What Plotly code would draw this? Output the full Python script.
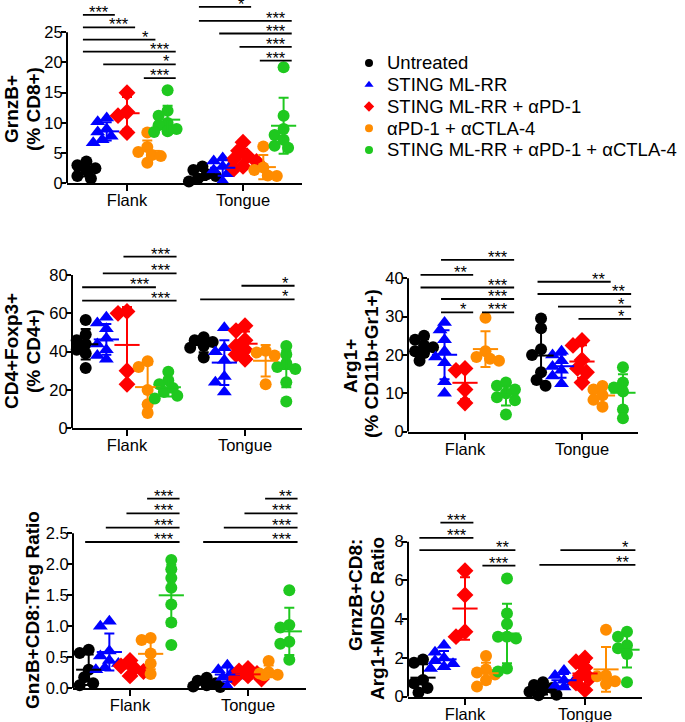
import numpy as np
import plotly.graph_objects as go

W, H = 685, 722
FONT = "Liberation Sans, Arial, sans-serif"

groups = ["Untreated", "STING ML-RR", "STING ML-RR + αPD-1",
          "αPD-1 + αCTLA-4", "STING ML-RR + αPD-1 + αCTLA-4"]
colors = ["#000000", "#0000FF", "#FF0000", "#FF8C00", "#1FC81F"]
symbols = ["circle", "triangle-up", "diamond", "circle", "circle"]
sites = ["Flank", "Tongue"]

# ---------------- data (per site: list of 5 groups) ----------------
grnzb_flank = [[3.6, 3.0, 2.5, 2.1, 1.2, 0.8],
               [10.8, 10.2, 9.0, 8.5, 7.8, 7.2, 6.7],
               [15.0, 11.8, 11.2, 8.4],
               [8.4, 6.0, 5.2, 4.7, 4.5, 3.4],
               [15.4, 12.0, 11.2, 10.0, 9.6, 9.0, 8.6, 8.5]]
grnzb_tongue = [[2.8, 2.2, 1.5, 1.2, 0.8, 0.3],
                [4.2, 3.7, 3.2, 2.8, 2.2, 1.6, 0.3],
                [6.8, 5.4, 4.5, 4.0, 3.6, 2.8, 2.4],
                [6.1, 2.6, 2.2, 1.3, 1.2],
                [19.2, 11.2, 9.0, 8.0, 7.2, 6.2, 5.9]]

treg_flank = [[56.5, 49, 46, 44, 41, 39, 31.5],
              [58, 55, 52, 47, 44, 41, 38, 36],
              [61, 60, 30, 23],
              [35, 32, 20, 12.5, 8],
              [29.5, 25, 23, 21, 19, 17, 15.5]]
treg_tongue = [[47.5, 46, 45, 43, 42, 37],
               [52.5, 42, 40, 35.5, 27, 24, 19],
               [53.5, 51, 46, 43, 41, 38.5, 36],
               [40.5, 39.5, 38, 23],
               [43, 38.5, 34, 32, 31, 24, 14]]

arg1_flank = [[25, 24, 22.5, 22, 21, 20.5, 18.5],
              [28.5, 26.5, 24, 21, 19.5, 18, 13, 10],
              [16.5, 16, 11, 7.5],
              [29.7, 21, 19.5, 19, 18.5],
              [12.8, 12, 11, 10, 9, 8.2, 4.5]]
arg1_tongue = [[29.5, 27, 21.5, 20, 15.5, 13.5, 12],
               [21, 20, 18.5, 17, 16, 14.5, 12.5],
               [23.8, 22.5, 18.7, 16.5, 15.5, 12.8],
               [11.9, 11, 9.5, 8.3, 6.5],
               [16.8, 12.8, 11.5, 10.5, 5.8, 3.5]]

ratio_treg_flank = [[0.62, 0.57, 0.3, 0.18, 0.08, 0.05],
                    [1.08, 1.0, 0.6, 0.52, 0.45, 0.4, 0.33, 0.3],
                    [0.45, 0.36, 0.32, 0.27, 0.2],
                    [0.81, 0.78, 0.56, 0.4, 0.23],
                    [2.07, 1.92, 1.78, 1.62, 1.35, 1.06, 0.7]]
ratio_treg_tongue = [[0.17, 0.12, 0.08, 0.05, 0.03, 0.02],
                     [0.37, 0.3, 0.25, 0.2, 0.18, 0.03],
                     [0.32, 0.28, 0.24, 0.2, 0.16, 0.15],
                     [0.44, 0.26, 0.24, 0.22, 0.21],
                     [1.58, 1.02, 0.98, 0.75, 0.72, 0.46]]

ratio_mdsc_flank = [[1.92, 1.75, 0.86, 0.7, 0.45, 0.22],
                    [2.65, 2.3, 2.0, 1.85, 1.7, 1.55, 1.45],
                    [6.5, 5.25, 3.35, 3.1],
                    [2.1, 1.4, 1.25, 1.15, 0.85, 0.52],
                    [6.1, 4.3, 3.75, 3.1, 3.0, 3.1, 1.45, 1.3]]
ratio_mdsc_tongue = [[0.75, 0.6, 0.45, 0.35, 0.25, 0.1, 0.08],
                     [1.35, 1.1, 0.85, 0.75, 0.55, 0.5],
                     [2.0, 1.8, 1.5, 1.1, 0.95, 0.7, 0.35],
                     [3.45, 1.1, 1.05, 0.8, 0.65],
                     [3.35, 3.1, 2.65, 2.5, 2.2, 0.75]]

# significance brackets: (site index, group from, group to, height, label)
brackets_grnzb = [(0, 0, 1, 27.9, "***"), (0, 0, 2, 25.8, "***"), (0, 0, 3, 23.8, "*"),
                  (0, 0, 4, 21.8, "***"), (0, 1, 4, 19.7, "*"), (0, 3, 4, 17.4, "***"),
                  (1, 0, 2, 29.2, "*"), (1, 0, 4, 26.9, "***"), (1, 1, 4, 24.8, "***"),
                  (1, 2, 4, 22.6, "***"), (1, 3, 4, 20.3, "***")]
brackets_treg = [(0, 2, 4, 89.6, "***"), (0, 1, 4, 80.9, "***"), (0, 0, 3, 73.6, "***"),
                 (0, 0, 4, 66.6, "***"), (1, 2, 4, 74.4, "*"), (1, 0, 4, 67.3, "*")]
brackets_arg1 = [(0, 1, 4, 44.8, "***"), (0, 0, 2, 40.9, "**"), (0, 0, 4, 37.6, "***"),
                 (0, 1, 4, 34.6, "***"), (0, 1, 2, 31.1, "*"), (0, 3, 4, 31.1, "***"),
                 (1, 0, 3, 39.1, "**"), (1, 0, 4, 35.9, "**"), (1, 1, 4, 32.6, "*"),
                 (1, 2, 4, 29.4, "*")]
brackets_ratio_treg = [(0, 3, 4, 3.06, "***"), (0, 2, 4, 2.82, "***"), (0, 1, 4, 2.59, "***"),
                       (0, 0, 4, 2.36, "***"), (1, 3, 4, 3.06, "**"), (1, 2, 4, 2.82, "***"),
                       (1, 1, 4, 2.59, "***"), (1, 0, 4, 2.36, "***")]
brackets_ratio_mdsc = [(0, 1, 2, 8.98, "***"), (0, 0, 2, 8.2, "***"), (0, 0, 4, 7.57, "**"),
                       (0, 3, 4, 6.76, "***"), (1, 1, 4, 7.57, "*"), (1, 0, 4, 6.8, "**")]

ticks_grnzb = [0, 5, 10, 15, 20, 25]
ticks_treg = [0, 20, 40, 60, 80]
ticks_arg1 = [0, 10, 20, 30, 40]
ticks_ratio_treg = [0, 0.5, 1.0, 1.5, 2.0, 2.5]
ticks_ratio_mdsc = [0, 2, 4, 6, 8]

# ---------------- layout of panels (pixel geometry) ----------------
panels = [
    dict(data=(grnzb_flank, grnzb_tongue), br=brackets_grnzb, ticks=ticks_grnzb, fmt="d",
         x0=67, x1=302, zero=183.3, toppx=32.3, rtop=30.3, fpx=127, tpx=243,
         titles=[("GrnzB+", 11, 109), ("(% CD8+)", 33, 109)]),
    dict(data=(treg_flank, treg_tongue), br=brackets_treg, ticks=ticks_treg, fmt="d",
         x0=72, x1=302, zero=428.3, toppx=275, rtop=92, fpx=127, tpx=245,
         titles=[("CD4+Foxp3+", 11, 351), ("(% CD4+)", 33, 351)]),
    dict(data=(arg1_flank, arg1_tongue), br=brackets_arg1, ticks=ticks_arg1, fmt="d",
         x0=408, x1=638, zero=431.7, toppx=278.3, rtop=46.5, fpx=465, tpx=582,
         titles=[("Arg1+", 350, 366), ("(% CD11b+Gr1+)", 372, 364)]),
    dict(data=(ratio_treg_flank, ratio_treg_tongue), br=brackets_ratio_treg,
         ticks=ticks_ratio_treg, fmt=".1f",
         x0=73, x1=306, zero=688.3, toppx=533.3, rtop=3.2, fpx=130, tpx=248,
         titles=[("GnzB+CD8:Treg Ratio", 32, 610)]),
    dict(data=(ratio_mdsc_flank, ratio_mdsc_tongue), br=brackets_ratio_mdsc,
         ticks=ticks_ratio_mdsc, fmt="d",
         x0=408, x1=642, zero=696.7, toppx=541.7, rtop=9.3, fpx=465, tpx=585,
         titles=[("GrnzB+CD8:", 355, 595), ("Arg1+MDSC Ratio", 377, 619)]),
]

OFFS = [-0.35, -0.175, 0.0, 0.175, 0.35]
MSIZE = {"circle": 12, "triangle-up": 13, "diamond": 13}


def swarm(vals, ppu, diam=8.5, step=4.5):
    order = sorted(range(len(vals)), key=lambda k: -vals[k])
    placed, res = [], [0.0] * len(vals)
    for k in order:
        y = vals[k] * ppu
        best, bestd = 0.0, -1
        for m in [0, -1, 1, -2, 2, -3, 3]:
            dx = m * step
            d = min([np.hypot(dx - px, y - py) for px, py in placed] or [1e9])
            if d >= diam:
                best = dx
                break
            if d > bestd:
                best, bestd = dx, d
        placed.append((best, y))
        res[k] = best
    return res


fig = go.Figure()
layout = dict(width=W, height=H, margin=dict(l=0, r=0, t=0, b=0),
              plot_bgcolor="white", paper_bgcolor="white", showlegend=False,
              font=dict(family=FONT, color="black"))
annotations, shapes = [], []

for p_i, P in enumerate(panels):
    n = p_i + 1
    xa, ya = ("x" if n == 1 else f"x{n}"), ("y" if n == 1 else f"y{n}")
    xkey, ykey = ("xaxis" if n == 1 else f"xaxis{n}"), ("yaxis" if n == 1 else f"yaxis{n}")
    ppu = (P["zero"] - P["toppx"]) / P["ticks"][-1]
    rtop = min(P["rtop"], P["zero"] / ppu)
    top_px = P["zero"] - rtop * ppu
    unit = P["tpx"] - P["fpx"]
    xr = [1 - (P["fpx"] - P["x0"]) / unit, 2 + (P["x1"] - P["tpx"]) / unit]
    layout[xkey] = dict(domain=[P["x0"] / W, P["x1"] / W], range=xr, anchor=ya,
                        tickvals=[1, 2], ticktext=sites, showline=True, linewidth=2,
                        linecolor="black", ticks="outside", ticklen=6, tickwidth=2,
                        tickcolor="black", showgrid=False, zeroline=False,
                        ticklabelstandoff=-5,
                        tickfont=dict(size=16.5, family=FONT, color="black"),
                        automargin=False, fixedrange=True)
    layout[ykey] = dict(domain=[max(0, 1 - P["zero"] / H), min(1, 1 - top_px / H)],
                        range=[0, rtop],
                        anchor=xa, tickvals=P["ticks"],
                        ticktext=[(f"{t:.1f}" if P["fmt"] == ".1f" else f"{t:g}") for t in P["ticks"]],
                        showline=False, ticks="outside", ticklen=5, tickwidth=2,
                        tickcolor="black", showgrid=False, zeroline=False,
                        ticklabelstandoff=-5,
                        tickfont=dict(size=16.5, family=FONT, color="black"),
                        automargin=False, fixedrange=True)
    # y axis line up to the top tick
    shapes.append(dict(type="line", xref=f"{xa} domain", yref=ya, x0=0, x1=0,
                       y0=0, y1=P["ticks"][-1], line=dict(color="black", width=2)))
    # points and mean +/- SD
    for s_i, site_data in enumerate(P["data"]):
        for g in range(5):
            vals = site_data[g]
            xc = (s_i + 1) + OFFS[g]
            dxs = swarm(vals, ppu)
            xs = [xc + d / unit for d in dxs]
            fig.add_trace(go.Scatter(x=xs, y=vals, mode="markers", xaxis=xa, yaxis=ya,
                                     cliponaxis=False, hoverinfo="skip",
                                     marker=dict(symbol=symbols[g], color=colors[g],
                                                 size=MSIZE[symbols[g]], line=dict(width=0))))
        for g in range(5):
            vals = np.array(site_data[g], dtype=float)
            xc = (s_i + 1) + OFFS[g]
            fig.add_trace(go.Scatter(x=[xc], y=[vals.mean()], mode="markers", xaxis=xa, yaxis=ya,
                                     cliponaxis=False, hoverinfo="skip",
                                     marker=dict(symbol="line-ew", size=18, color=colors[g],
                                                 line=dict(color=colors[g], width=2)),
                                     error_y=dict(type="data", array=[vals.std(ddof=1)],
                                                  color=colors[g], thickness=2, width=5)))
    # significance brackets
    bx, by = [], []
    for (s_i, g1, g2, h, lab) in P["br"]:
        xs0 = (s_i + 1) + OFFS[g1] - 0.03
        xs1 = (s_i + 1) + OFFS[g2] + 0.07
        bx += [xs0, xs1, None]
        by += [h, h, None]
        annotations.append(dict(x=xs1, y=h, xref=xa, yref=ya, text=lab, showarrow=False,
                                xanchor="right", yanchor="bottom", xshift=-4, yshift=-8,
                                font=dict(size=16.5, family=FONT, color="black")))
    fig.add_trace(go.Scatter(x=bx, y=by, mode="lines", xaxis=xa, yaxis=ya, hoverinfo="skip",
                             cliponaxis=False, line=dict(color="black", width=1.8)))
    # axis titles
    for (txt, px, py) in P["titles"]:
        annotations.append(dict(x=px / W, y=1 - py / H, xref="paper", yref="paper",
                                text=f"<b>{txt}</b>", showarrow=False, textangle=-90,
                                xanchor="center", yanchor="middle",
                                font=dict(size=19, family=FONT, color="black")))

# ---------------- legend (manual, on a hidden axis) ----------------
layout["xaxis6"] = dict(domain=[369 / W, 0.99], range=[0, 1], visible=False, anchor="y6",
                        fixedrange=True)
row_h = 21.75
leg_top = 63 - row_h / 2
layout["yaxis6"] = dict(domain=[1 - (leg_top + 5 * row_h) / H, 1 - leg_top / H],
                        range=[4.5, -0.5], visible=False, anchor="x6", fixedrange=True)
for g in range(5):
    fig.add_trace(go.Scatter(x=[0], y=[g], mode="markers", xaxis="x6", yaxis="y6",
                             cliponaxis=False, hoverinfo="skip",
                             marker=dict(symbol=symbols[g], color=colors[g], size=8,
                                         line=dict(width=0))))
    annotations.append(dict(x=0, y=g, xref="x6", yref="y6", text=groups[g], showarrow=False,
                            xanchor="left", yanchor="middle", xshift=16,
                            font=dict(size=18.5, family=FONT, color="black")))

layout["annotations"] = annotations
layout["shapes"] = shapes
fig.update_layout(**layout)
fig.write_html("out.html", config={"displayModeBar": False},
               post_script="document.body.style.margin='0px';"
                           "document.body.style.overflow='hidden';")
